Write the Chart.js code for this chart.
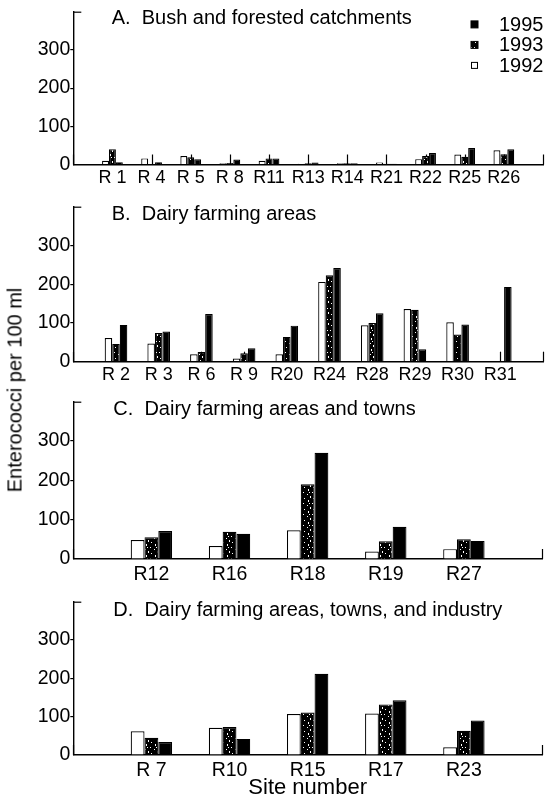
<!DOCTYPE html>
<html>
<head>
<meta charset="utf-8">
<script src="https://cdn.jsdelivr.net/npm/chart.js@4.4.1/dist/chart.umd.min.js"></script>
<style>
  html, body { margin: 0; padding: 0; background: #fff; }
  #wrap { position: relative; width: 546px; height: 806px; overflow: hidden; background: #fff; }
  .panel { position: absolute; left: 0; width: 546px; }
  #ytitle {
    position: absolute; left: 15px; top: 390px;
    font-family: "Liberation Sans", Arial, sans-serif; font-size: 20px; color: #000;
    white-space: nowrap; transform: translate(-50%, -50%) rotate(-90deg);
  }
</style>
</head>
<body>
<div id="wrap">
  <div class="panel" style="top:0;height:195px"><canvas id="panelA"></canvas></div>
  <div class="panel" style="top:195px;height:195px"><canvas id="panelB"></canvas></div>
  <div class="panel" style="top:390px;height:200px"><canvas id="panelC"></canvas></div>
  <div class="panel" style="top:590px;height:216px"><canvas id="panelD"></canvas></div>
  <div id="ytitle">Enterococci per 100 ml</div>
</div>
<script>
// Survey years
const years = ['1992', '1993', '1995'];

// A. Bush and forested catchments
const sitesA = ['R 1', 'R 4', 'R 5', 'R 8', 'R11', 'R13', 'R14', 'R21', 'R22', 'R25', 'R26'];
const a1992 = [10, 16, 22, 3, 10, 2, 3, 5, 14, 26, 37];
const a1993 = [40, 0, 19, 4, 16, 3, 3, 2, 22, 20, 27];
const a1995 = [6, 6, 14, 13, 16, 5, 3, 2, 30, 43, 40];

// B. Dairy farming areas
const sitesB = ['R 2', 'R 3', 'R 6', 'R 9', 'R20', 'R24', 'R28', 'R29', 'R30', 'R31'];
const b1992 = [61, 47, 19, 8, 19, 206, 94, 136, 102, 0];
const b1993 = [46, 74, 25, 22, 64, 223, 100, 134, 70, 0];
const b1995 = [95, 78, 123, 35, 93, 242, 125, 32, 96, 193];

// C. Dairy farming areas and towns
const sitesC = ['R12', 'R16', 'R18', 'R19', 'R27'];
const c1992 = [48, 33, 73, 19, 25];
const c1993 = [55, 69, 190, 45, 50];
const c1995 = [71, 64, 270, 82, 46];

// D. Dairy farming areas, towns, and industry
const sitesD = ['R 7', 'R10', 'R15', 'R17', 'R23'];
const d1992 = [62, 71, 107, 108, 20];
const d1993 = [45, 73, 111, 132, 63];
const d1995 = [34, 42, 212, 143, 90];

// Y axis ticks
const yTicks = [0, 100, 200, 300];
const yMax = 400;

const FONT = '"Liberation Sans", Arial, Helvetica, sans-serif';

// Stippled fill used for the 1993 series: dark ground with sparse light flecks
function makeStipple() {
  const c = document.createElement('canvas');
  c.width = 9; c.height = 11;
  const g = c.getContext('2d');
  g.fillStyle = '#000';
  g.fillRect(0, 0, 9, 11);
  g.fillStyle = '#fff';
  const flecks = [[2, 0, 1, 2], [6, 3, 1, 1], [1, 5, 1, 1], [4, 7, 1, 2], [7, 9, 1, 1], [3, 3, 1, 1]];
  flecks.forEach(([x, y, w, h]) => g.fillRect(x, y, w, h));
  return g.createPattern(c, 'repeat');
}
const stipple = makeStipple();

// Short inward tick marks at every category, plus the cap at the top of the y axis
const axisMarks = {
  id: 'axisMarks',
  beforeDatasetsDraw(chart) {
    const { ctx, chartArea } = chart;
    const xs = chart.scales.x;
    ctx.save();
    ctx.strokeStyle = '#000';
    ctx.lineWidth = 1.2;
    xs.ticks.forEach((t, i) => {
      const px = Math.round(xs.getPixelForTick(i)) + 0.5;
      ctx.beginPath();
      ctx.moveTo(px, chartArea.bottom);
      ctx.lineTo(px, chartArea.bottom - 10);
      ctx.stroke();
    });
    ctx.beginPath();
    ctx.moveTo(chartArea.left, chartArea.top + 0.5);
    ctx.lineTo(chartArea.left + 8, chartArea.top + 0.5);
    ctx.stroke();
    ctx.restore();
  }
};

// Panel heading written inside the plot area
const panelTitle = {
  id: 'panelTitle',
  afterDraw(chart, args, opts) {
    const { ctx, chartArea } = chart;
    ctx.save();
    ctx.fillStyle = '#000';
    ctx.font = '20px ' + FONT;
    ctx.textBaseline = 'middle';
    ctx.textAlign = 'left';
    ctx.fillText(opts.text, chartArea.left + opts.dx, chartArea.top + opts.dy);
    ctx.restore();
  }
};

// Year key, drawn from the dataset styles
const yearKey = {
  id: 'yearKey',
  afterDraw(chart, args, opts) {
    if (!opts.show) return;
    const { ctx, chartArea } = chart;
    const ds = chart.data.datasets;
    const order = [2, 1, 0];
    ctx.save();
    ctx.font = '20px ' + FONT;
    ctx.textBaseline = 'middle';
    ctx.textAlign = 'left';
    order.forEach((di, row) => {
      const y = chartArea.top + 12.7 + row * 20.5;
      const cx = chartArea.right - 68.5;
      const s = di === 0 ? 6 : 7;
      ctx.fillStyle = ds[di].backgroundColor;
      ctx.fillRect(cx - s / 2, y - s / 2, s, s);
      ctx.strokeStyle = '#000';
      ctx.lineWidth = 1;
      ctx.strokeRect(cx - s / 2, y - s / 2, s, s);
      ctx.fillStyle = '#000';
      ctx.fillText(ds[di].label, chartArea.right - 44, y + 1);
    });
    ctx.restore();
  }
};

function pad(arr) { return [null, ...arr, null]; }

function makePanel(id, g) {
  const labels = ['', ...g.sites, ''];
  const base = { borderColor: '#000', borderWidth: 1.2, borderSkipped: 'start', barPercentage: 1.0, categoryPercentage: 0.53 };
  new Chart(document.getElementById(id), {
    type: 'bar',
    data: {
      labels,
      datasets: [
        { ...base, label: years[0], data: pad(g.v92), backgroundColor: '#ffffff' },
        { ...base, label: years[1], data: pad(g.v93), backgroundColor: stipple },
        { ...base, label: years[2], data: pad(g.v95), backgroundColor: '#000000' }
      ]
    },
    options: {
      responsive: true,
      maintainAspectRatio: false,
      animation: false,
      devicePixelRatio: 1,
      layout: { padding: { left: 0, right: 2.3, top: g.top, bottom: 0 } },
      plugins: {
        legend: { display: false },
        tooltip: { enabled: false },
        panelTitle: { text: g.title, dx: g.dx, dy: g.dy },
        yearKey: { show: !!g.key }
      },
      scales: {
        x: {
          type: 'category',
          offset: false,
          grid: { display: false, drawTicks: false },
          border: { display: true, color: '#000', width: 1.4 },
          ticks: {
            autoSkip: false, maxRotation: 0, color: '#000', padding: g.xpad,
            font: { family: FONT, size: g.xfont }
          },
          title: g.xtitle ? {
            display: true, text: g.xtitle, color: '#000',
            font: { family: FONT, size: 22 }, padding: { top: 0, bottom: 5 }
          } : { display: false },
          afterFit: (s) => { s.height = g.xh; }
        },
        y: {
          min: 0,
          max: yMax,
          afterBuildTicks: (s) => { s.ticks = yTicks.map(v => ({ value: v })); },
          grid: {
            drawOnChartArea: false, drawTicks: true, tickLength: 3, lineWidth: 1.2,
            tickColor: (c) => (c.tick && c.tick.value === 0) ? 'rgba(0,0,0,0)' : '#000'
          },
          border: { display: true, color: '#000', width: 1.4 },
          ticks: { color: '#000', padding: 0, font: { family: FONT, size: 19.5 } },
          afterFit: (s) => { s.width = 73.3; }
        }
      }
    },
    plugins: [axisMarks, panelTitle, yearKey]
  });
}

makePanel('panelA', { sites: sitesA, v92: a1992, v93: a1993, v95: a1995,
  title: 'A.  Bush and forested catchments', top: 9.6, xh: 30.5, xfont: 18, xpad: 3, dx: 38.4, dy: 7.1, key: true });
makePanel('panelB', { sites: sitesB, v92: b1992, v93: b1993, v95: b1995,
  title: 'B.  Dairy farming areas', top: 8.8, xh: 28.3, xfont: 18, xpad: 3, dx: 38.4, dy: 7.9 });
makePanel('panelC', { sites: sitesC, v92: c1992, v93: c1993, v95: c1995,
  title: 'C.  Dairy farming areas and towns', top: 11.7, xh: 31, xfont: 19.5, xpad: 4, dx: 40, dy: 7.3 });
makePanel('panelD', { sites: sitesD, v92: d1992, v93: d1993, v95: d1995,
  title: 'D.  Dairy farming areas, towns, and industry', top: 8, xh: 51, xfont: 19.5, xpad: 4, dx: 40, dy: 8.7,
  xtitle: 'Site number' });
</script>
</body>
</html>
